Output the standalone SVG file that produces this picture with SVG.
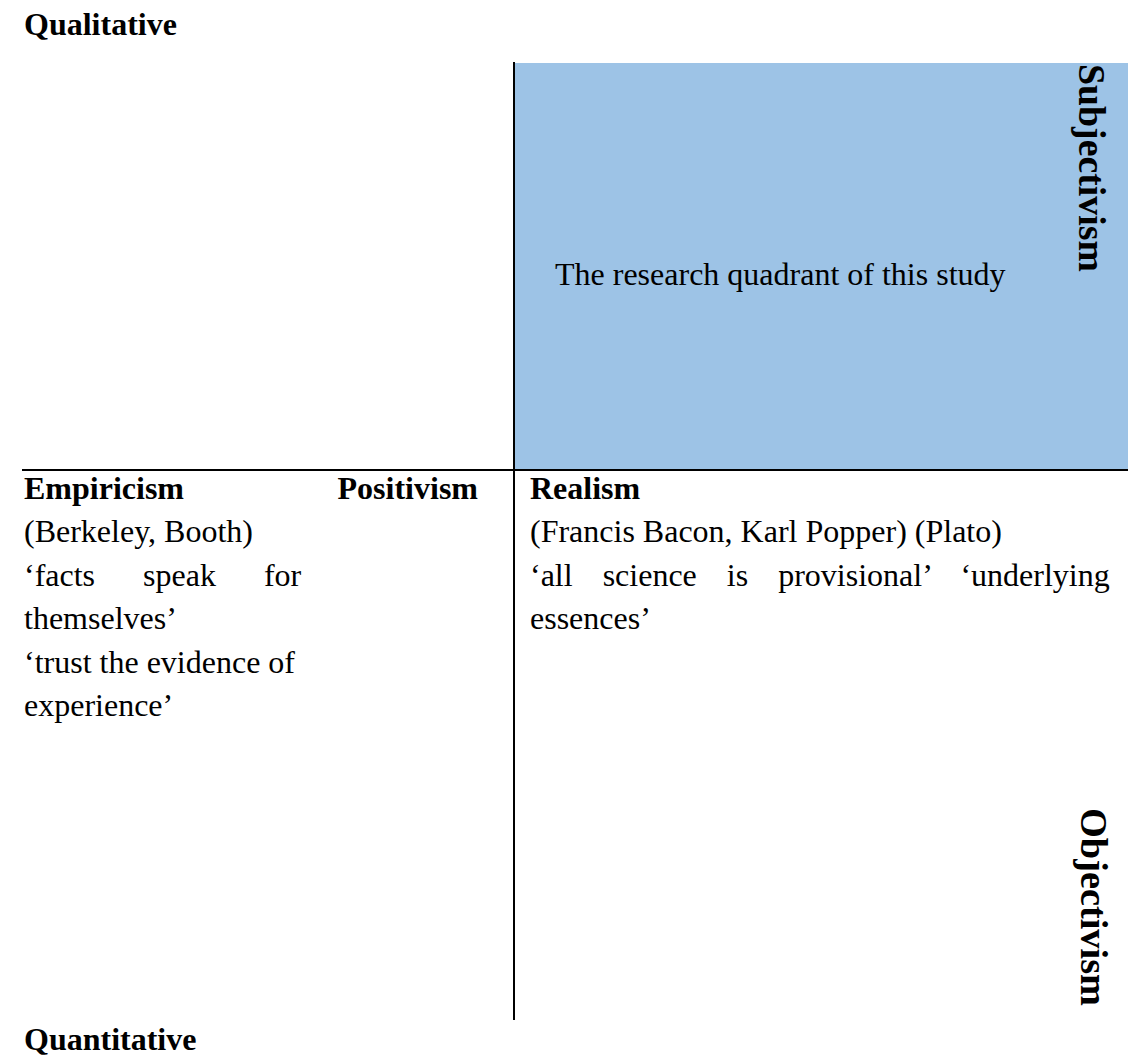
<svg xmlns="http://www.w3.org/2000/svg" width="1128" height="1056" viewBox="0 0 1128 1056">
  <style>
    text { font-family: "Liberation Serif", "Times New Roman", serif; font-size: 32px; fill: #000; }
    .b { font-weight: bold; }
    .side { font-weight: bold; font-size: 37px; }
    .axis { stroke: #000; stroke-width: 2; fill: none; }
  </style>
  <rect width="1128" height="1056" fill="#fff"/>

  <!-- highlighted quadrant -->
  <g id="quadrant-study">
    <rect x="514" y="63" width="614" height="407" fill="#9DC3E6"/>
    <text x="555" y="285">The research quadrant of this study</text>
  </g>

  <!-- axes -->
  <g id="connectors">
    <line class="axis" x1="514" y1="62" x2="514" y2="1020"/>
    <line class="axis" x1="22" y1="470" x2="1128" y2="470"/>
  </g>

  <g id="label-qualitative">
    <text class="b" x="24" y="35">Qualitative</text>
  </g>
  <g id="label-quantitative">
    <text class="b" x="24" y="1050">Quantitative</text>
  </g>
  <g id="label-subjectivism">
    <text class="side" transform="translate(1079,64) rotate(90)" textLength="208" lengthAdjust="spacingAndGlyphs">Subjectivism</text>
  </g>
  <g id="label-objectivism">
    <text class="side" transform="translate(1081,808) rotate(90)" textLength="198" lengthAdjust="spacingAndGlyphs">Objectivism</text>
  </g>

  <g id="quadrant-empiricism">
    <text class="b" x="24" y="499">Empiricism</text>
    <text class="b" x="478" y="499" text-anchor="end">Positivism</text>
    <text x="24" y="542">(Berkeley, Booth)</text>
    <text x="24" y="586" word-spacing="40">‘facts speak for</text>
    <text x="24" y="629">themselves’</text>
    <text x="24" y="673">‘trust the evidence of</text>
    <text x="24" y="716">experience’</text>
  </g>

  <g id="quadrant-realism">
    <text class="b" x="530" y="499">Realism</text>
    <text x="530" y="542">(Francis Bacon, Karl Popper) (Plato)</text>
    <text x="530" y="586" word-spacing="22">‘all science is provisional’ ‘underlying</text>
    <text x="530" y="629">essences’</text>
  </g>
</svg>
